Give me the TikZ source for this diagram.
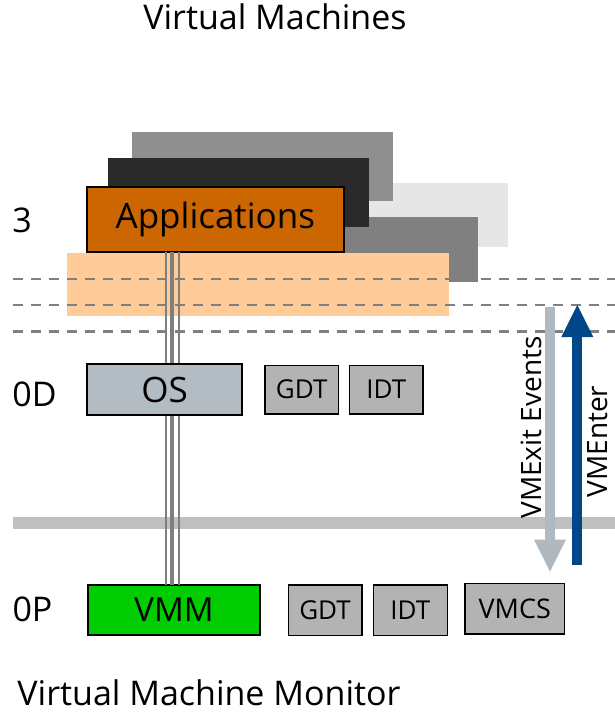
\documentclass[tikz,border=0pt]{standalone}
\usepackage{fontspec}
\setmainfont{Open Sans}
\usetikzlibrary{arrows.meta}

\definecolor{backgray}{HTML}{8F8F8F}
\definecolor{darkbox}{HTML}{2A2A2A}
\definecolor{midgray}{HTML}{808080}
\definecolor{lightbox}{HTML}{E6E6E6}
\definecolor{peach}{HTML}{FFCC99}
\definecolor{appfill}{HTML}{CC6600}
\definecolor{osfill}{HTML}{B3BBC3}
\definecolor{tablefill}{HTML}{B3B3B3}
\definecolor{vmmfill}{HTML}{00CC00}
\definecolor{enterblue}{HTML}{00478A}
\definecolor{exitgray}{HTML}{B1B9C0}
\definecolor{dashgray}{HTML}{808080}
\definecolor{bargray}{HTML}{C0C0C0}
\definecolor{linkgray}{HTML}{7F7F7F}

\newcommand{\fs}[1]{\fontsize{#1}{#1}\selectfont}

\tikzset{
  panel/.style={inner sep=0pt, outer sep=0pt, draw=none},
  box/.style={draw=black, line width=2pt, inner sep=0pt, outer sep=0pt, text=black},
  tablebox/.style={box, line width=1.6pt, fill=tablefill, minimum width=73.4pt, minimum height=50pt, font=\fs{26}},
  lbl/.style={inner sep=0pt, outer sep=0pt, text=black},
  level/.style={dashgray, line width=2.3pt, dash pattern=on 10.7pt off 7.3pt},
  link/.style={linkgray},
  bigarrow/.style={line width=10pt, -{Triangle[width=32pt,length=32pt,line width=0pt]}},
}

\begin{document}
\begin{tikzpicture}[x=1pt,y=-1pt]
\useasboundingbox (0,0) rectangle (615,713);

% stacked virtual machine layers
\node[panel, fill=lightbox, minimum width=357.7pt, minimum height=64pt] (vm4) at (328.8,214.7) {};
\node[panel, fill=backgray, minimum width=261pt, minimum height=69pt] (vm1) at (262.8,166.2) {};
\node[panel, fill=midgray, minimum width=348.3pt, minimum height=64.4pt] (vm3) at (304.2,249.5) {};
\node[panel, fill=darkbox, minimum width=261pt, minimum height=69pt] (vm2) at (238.8,192.8) {};
\node[panel, fill=peach, minimum width=382.3pt, minimum height=63pt] (kernel) at (257.8,284.2) {};
\node[box, fill=appfill, minimum width=257.3pt, minimum height=65pt, font=\fs{35}] (app) at (215.3,219.2) {Applications};

% separator bar between guest and host
\fill[bargray] (12.7,516.7) rectangle (615,529.3);

% privilege level lines
\foreach \yy in {279.3,305,331.5}
  \draw[level] (12.7,\yy) -- (615,\yy);

% host-side boxes
\node[box, fill=vmmfill, minimum width=171.4pt, minimum height=50pt, font=\fs{33}] (vmm) at (174,610) {VMM};
\node[tablebox, minimum height=50.7pt] (gdt2) at (325,610.3) {GDT};
\node[tablebox, minimum height=50.7pt, minimum width=74pt] (idt2) at (410.3,610.3) {IDT};
\node[tablebox, minimum width=99.7pt, minimum height=50.3pt, font=\fs{27}] (vmcs) at (514.8,608.8) {VMCS};

% triple link from applications down to the monitor
\coordinate (la) at (166.3,0);
\coordinate (lb) at (172.4,0);
\coordinate (lc) at (179.1,0);
\draw[link, line width=2pt] (app.south -| la) -- (vmm.north -| la);
\draw[link, line width=4pt] (app.south -| lb) -- (vmm.north -| lb);
\draw[link, line width=2.5pt] (app.south -| lc) -- (vmm.north -| lc);

% guest OS row
\node[box, fill=osfill, minimum width=155.3pt, minimum height=50.7pt, font=\fs{35}] (os) at (164.7,389.7) {OS};
\node[tablebox, minimum height=48.7pt, minimum width=73.3pt] (gdt1) at (301.7,389.7) {GDT};
\node[tablebox, minimum height=48.7pt, minimum width=73.3pt] (idt1) at (386.3,389.7) {IDT};

% transitions
\coordinate (exitTop) at (550,306.7);
\coordinate (exitTip) at (550,571.7);
\coordinate (enterBot) at (577.3,565);
\coordinate (enterTip) at (577.3,305);
\draw[bigarrow, exitgray] (exitTop) -- (exitTip);
\draw[bigarrow, enterblue] (enterBot) -- (enterTip);
\node[lbl, rotate=90, font=\fs{28}] (exitlbl) at (531,427.5) {VMExit Events};
\node[lbl, rotate=90, font=\fs{28}] (enterlbl) at (597.5,441.5) {VMEnter};

% titles and level labels
\node[lbl, anchor=base, font=\fs{34}] (title) at (275,29) {Virtual Machines};
\node[lbl, anchor=base, font=\fs{34}] (footer) at (209,705.5) {Virtual Machine Monitor};
\node[lbl, anchor=base, font=\fs{34}] (ring3) at (22,232.3) {3};
\node[lbl, anchor=base, font=\fs{34}] (ring0d) at (34.5,406.7) {0D};
\node[lbl, anchor=base, font=\fs{34}] (ring0p) at (32.5,621.7) {0P};
\end{tikzpicture}
\end{document}
